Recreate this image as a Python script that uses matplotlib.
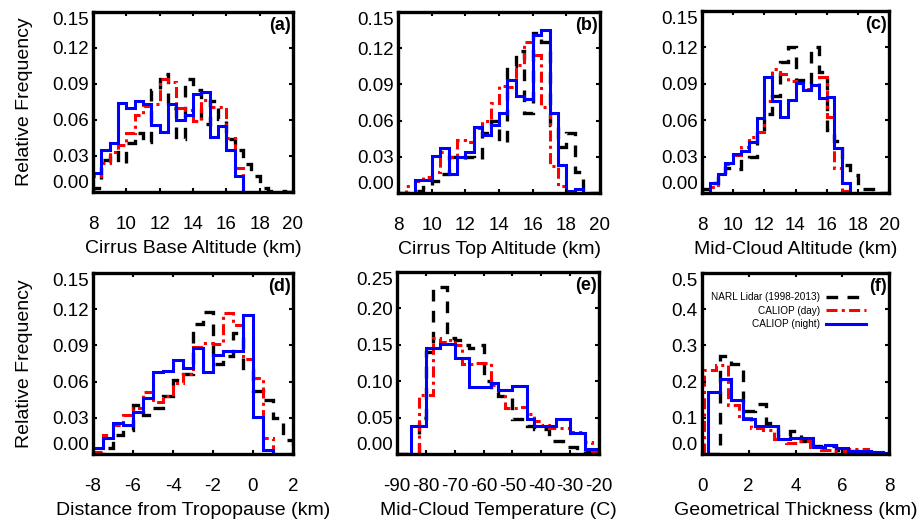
import numpy as np
import matplotlib.pyplot as plt
from matplotlib.lines import Line2D

plt.rcParams['font.family'] = ['Liberation Sans', 'DejaVu Sans']

# ----------------------------
# Histogram bins
# ----------------------------
alt_edges = np.arange(8.0, 20.01, 0.5)        # km
dist_edges = np.arange(-8.0, 2.01, 0.5)       # km from tropopause
temp_edges = np.arange(-90.0, -19.99, 2.5)    # deg C
thick_edges = np.arange(0.25, 8.26, 0.5)      # km (lidar, night)
thick_edges_day = np.arange(0.1, 8.11, 0.5)   # km (day)

# ----------------------------
# Relative frequencies
# ----------------------------
# (a) cirrus base altitude
base_lidar = [0.003, 0.027, 0.033, 0.024, 0.041, 0.049, 0.042, 0.085, 0.098, 0.070, 0.044, 0.094,
              0.085, 0.057, 0.076, 0.061, 0.044, 0.035, 0.023, 0.013, 0.003, 0.001, 0.001, 0.0]
base_day = [0.013, 0.024, 0.033, 0.039, 0.049, 0.064, 0.072, 0.073, 0.094, 0.092, 0.070, 0.068,
            0.059, 0.077, 0.071, 0.071, 0.045, 0.020, 0.0, 0.0, 0.0, 0.0, 0.0, 0.0]
base_night = [0.016, 0.035, 0.041, 0.074, 0.070, 0.076, 0.073, 0.056, 0.050, 0.073, 0.060, 0.064,
              0.082, 0.083, 0.046, 0.055, 0.035, 0.013, 0.0, 0.0, 0.0, 0.0, 0.0, 0.0]

# (b) cirrus top altitude
top_lidar = [0.0, 0.0, 0.002, 0.005, 0.010, 0.016, 0.030, 0.028, 0.030, 0.028, 0.050, 0.060,
             0.042, 0.105, 0.118, 0.066, 0.133, 0.125, 0.056, 0.038, 0.050, 0.017, 0.0, 0.0]
top_day = [0.0, 0.006, 0.010, 0.013, 0.017, 0.034, 0.030, 0.044, 0.042, 0.054, 0.060, 0.075,
           0.089, 0.088, 0.106, 0.125, 0.114, 0.071, 0.022, 0.006, 0.0, 0.0, 0.0, 0.0]
top_night = [0.0, 0.0, 0.0105, 0.0105, 0.031, 0.037, 0.016, 0.030, 0.034, 0.055, 0.048, 0.056,
             0.066, 0.094, 0.080, 0.078, 0.131, 0.135, 0.066, 0.023, 0.002, 0.003, 0.0, 0.0]

# (c) mid-cloud altitude
mid_lidar = [0.003, 0.008, 0.015, 0.021, 0.020, 0.028, 0.030, 0.049, 0.065, 0.080, 0.108, 0.120,
             0.093, 0.090, 0.120, 0.100, 0.052, 0.043, 0.023, 0.015, 0.003, 0.003, 0.0, 0.0]
mid_day = [0.0, 0.005, 0.016, 0.024, 0.031, 0.038, 0.046, 0.050, 0.076, 0.102, 0.098, 0.092,
           0.087, 0.086, 0.089, 0.096, 0.063, 0.021, 0.002, 0.0, 0.0, 0.0, 0.0, 0.0]
mid_night = [0.0, 0.008, 0.016, 0.025, 0.032, 0.035, 0.042, 0.062, 0.096, 0.076, 0.063, 0.077,
             0.091, 0.085, 0.089, 0.078, 0.079, 0.037, 0.008, 0.0, 0.0, 0.0, 0.0, 0.0]

# (d) distance from tropopause
dist_lidar = [0.0, 0.005, 0.016, 0.020, 0.041, 0.032, 0.038, 0.048, 0.061, 0.066,
              0.108, 0.118, 0.075, 0.081, 0.100, 0.070, 0.052, 0.045, 0.030, 0.012]
dist_day = [0.002, 0.016, 0.024, 0.032, 0.038, 0.051, 0.043, 0.048, 0.059, 0.066,
            0.089, 0.092, 0.091, 0.117, 0.107, 0.079, 0.063, 0.013, 0.0, 0.0]
dist_night = [0.005, 0.013, 0.026, 0.024, 0.035, 0.046, 0.068, 0.069, 0.078, 0.071,
              0.088, 0.068, 0.082, 0.085, 0.085, 0.115, 0.031, 0.003, 0.0, 0.0]

# (e) mid-cloud temperature
temp_lidar = [0.0, 0.0, 0.0, 0.050, 0.140, 0.229, 0.229, 0.160, 0.157, 0.150, 0.145, 0.150,
              0.100, 0.085, 0.080, 0.079, 0.048, 0.048, 0.038, 0.035, 0.035, 0.018, 0.018, 0.010,
              0.010, 0.005, 0.003, 0.0]
temp_day = [0.0, 0.0, 0.0, 0.081, 0.081, 0.160, 0.154, 0.156, 0.150, 0.123, 0.123, 0.125,
            0.125, 0.095, 0.088, 0.063, 0.063, 0.065, 0.055, 0.045, 0.040, 0.036, 0.036, 0.036,
            0.030, 0.030, 0.017, 0.004]
temp_night = [0.0, 0.0, 0.039, 0.039, 0.145, 0.145, 0.151, 0.151, 0.132, 0.132, 0.092, 0.092,
              0.092, 0.097, 0.088, 0.088, 0.093, 0.093, 0.048, 0.038, 0.038, 0.038, 0.048, 0.048,
              0.029, 0.029, 0.007, 0.007]

# (f) geometrical thickness
thick_lidar = [0.0, 0.270, 0.249, 0.120, 0.139, 0.086, 0.050, 0.063, 0.035, 0.021, 0.021, 0.010,
               0.008, 0.005, 0.003, 0.001]
thick_day = [0.233, 0.247, 0.136, 0.100, 0.072, 0.067, 0.042, 0.030, 0.035, 0.020, 0.012, 0.007,
             0.015, 0.015, 0.005, 0.004]
thick_night = [0.171, 0.208, 0.150, 0.098, 0.076, 0.076, 0.041, 0.044, 0.044, 0.018, 0.024, 0.017,
               0.009, 0.007, 0.005, 0.003]

# ----------------------------
# Layout (pixel boxes of the original figure)
# ----------------------------
W, H = 919, 521


def box(x0, x1, y0, y1):
    return [x0 / W, 1 - y1 / H, (x1 - x0) / W, (y1 - y0) / H]


style_lidar = dict(color='black', lw=2.4, linestyle=(0, (3.5, 2.8)))
style_day = dict(color='red', lw=2.2, linestyle=(0, (3.6, 1.4, 1.0, 1.4)))
style_night = dict(color='blue', lw=2.2, linestyle='-')

ticks_015 = [0.0, 0.03, 0.06, 0.09, 0.12, 0.15]

panels = [
    dict(rect=box(93, 293, 12, 192), tag='(a)', xlabel='Cirrus Base Altitude (km)',
         xlim=(8, 20), xticks=[8, 10, 12, 14, 16, 18, 20], ylim=(0, 0.15), yticks=ticks_015, yfmt='%.2f',
         series=[(alt_edges, base_lidar), (alt_edges, base_day), (alt_edges, base_night)], ylabel=True),
    dict(rect=box(398, 600, 12, 193), tag='(b)', xlabel='Cirrus Top Altitude (km)',
         xlim=(8, 20), xticks=[8, 10, 12, 14, 16, 18, 20], ylim=(0, 0.15), yticks=ticks_015, yfmt='%.2f',
         series=[(alt_edges, top_lidar), (alt_edges, top_day), (alt_edges, top_night)], ylabel=False),
    dict(rect=box(702, 889, 11, 193), tag='(c)', xlabel='Mid-Cloud Altitude (km)',
         xlim=(8, 20), xticks=[8, 10, 12, 14, 16, 18, 20], ylim=(0, 0.15), yticks=ticks_015, yfmt='%.2f',
         series=[(alt_edges, mid_lidar), (alt_edges, mid_day), (alt_edges, mid_night)], ylabel=False),
    dict(rect=box(93, 293, 273, 454), tag='(d)', xlabel='Distance from Tropopause (km)',
         xlim=(-8, 2), xticks=[-8, -6, -4, -2, 0, 2], ylim=(0, 0.15), yticks=ticks_015, yfmt='%.2f',
         series=[(dist_edges, dist_lidar), (dist_edges, dist_day), (dist_edges, dist_night)], ylabel=True),
    dict(rect=box(397, 599, 272, 454), tag='(e)', xlabel='Mid-Cloud Temperature (C)',
         xlim=(-90, -20), xticks=[-90, -80, -70, -60, -50, -40, -30, -20], ylim=(0, 0.25),
         yticks=[0.0, 0.05, 0.10, 0.15, 0.20, 0.25], yfmt='%.2f',
         series=[(temp_edges, temp_lidar), (temp_edges, temp_day), (temp_edges, temp_night)], ylabel=False),
    dict(rect=box(702, 889, 273, 454), tag='(f)', xlabel='Geometrical Thickness (km)',
         xlim=(0, 8), xticks=[0, 2, 4, 6, 8], ylim=(0, 0.5),
         yticks=[0.0, 0.1, 0.2, 0.3, 0.4, 0.5], yfmt='%.1f',
         series=[(thick_edges, thick_lidar), (thick_edges_day, thick_day), (thick_edges, thick_night)],
         ylabel=False),
]

fig = plt.figure(figsize=(W / 100, H / 100), dpi=100)

for p in panels:
    ax = fig.add_axes(p['rect'])
    for (edges, vals), st in zip(p['series'], [style_lidar, style_day, style_night]):
        ax.stairs(vals, edges, baseline=0, fill=False, **st)
    ax.set_xlim(*p['xlim'])
    ax.set_ylim(*p['ylim'])
    ax.set_xticks(p['xticks'])
    ax.set_xticklabels([str(t) for t in p['xticks']])
    ax.set_yticks(p['yticks'])
    ax.set_yticklabels([p['yfmt'] % t for t in p['yticks']])
    ylab = ax.get_yticklabels()
    ylab[0].set_va('bottom')
    ylab[-1].set_va('top')
    for s in ax.spines.values():
        s.set_linewidth(2.4)
    ax.tick_params(direction='in', top=True, right=True, length=3, width=1.5, labelsize=13.5)
    ax.tick_params(axis='x', pad=17)
    ax.tick_params(axis='y', pad=3)
    ax.set_xlabel(p['xlabel'], fontsize=14, labelpad=5)
    if p['ylabel']:
        ax.set_ylabel('Relative Frequency', fontsize=14, labelpad=14)
    ax.text(0.99, 0.97, p['tag'], transform=ax.transAxes, ha='right', va='top',
            fontsize=13, fontweight='bold')
    if p['tag'] == '(f)':
        handles = [Line2D([], [], **style_lidar), Line2D([], [], **style_day), Line2D([], [], **style_night)]
        ax.legend(handles, ['NARL Lidar (1998-2013)', 'CALIOP (day)', 'CALIOP (night)'],
                  loc='upper right', bbox_to_anchor=(0.877, 0.895), frameon=False, markerfirst=False,
                  fontsize=7.2, handlelength=4.0, handletextpad=0.6, labelspacing=0.35,
                  borderpad=0, borderaxespad=0)

fig.savefig('out.png', dpi=100)
